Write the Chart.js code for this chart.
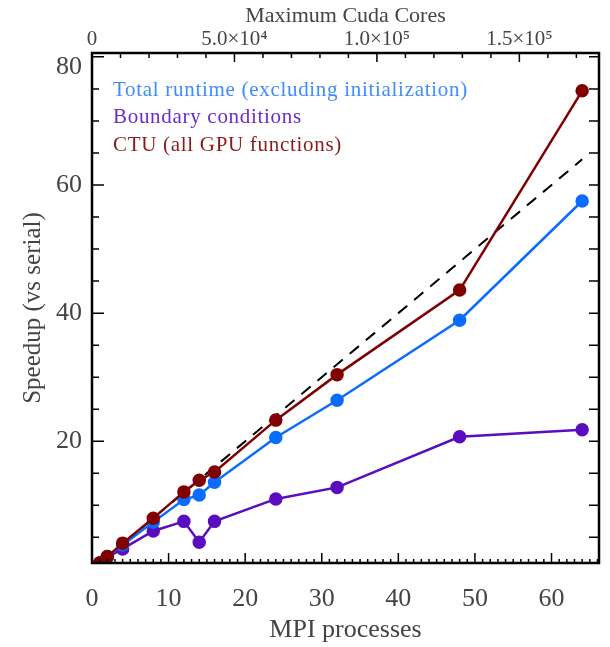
<!DOCTYPE html>
<html>
<head>
<meta charset="utf-8">
<script src="https://cdn.jsdelivr.net/npm/chart.js@4/dist/chart.umd.min.js"></script>
<style>
  html, body { margin: 0; padding: 0; background: #fff; }
  #wrap { width: 610px; height: 647px; }
</style>
</head>
<body>
<div id="wrap"><canvas id="speedupChart" width="610" height="647"></canvas></div>
<script>
"use strict";
// data
var mpiProcs = [1, 2, 4, 8, 12, 14, 16, 24, 32, 48, 64];
var totalRuntime = [1, 2.0, 3.8, 7.4, 10.9, 11.6, 13.6, 20.6, 26.4, 38.9, 57.5];
var boundaryCond = [1, 1.9, 3.2, 6.0, 7.5, 4.25, 7.5, 11.0, 12.8, 20.7, 21.8];
var ctuSpeedup = [1, 2.0, 4.1, 8.0, 12.1, 13.9, 15.2, 23.3, 30.4, 43.6, 74.7];
var idealX = [0, 64];

var xTicks = [0, 10, 20, 30, 40, 50, 60];
var yTicks = [20, 40, 60, 80];
var coresPerProc = 2688;
var coreTicks = [0, 50000, 100000, 150000];
var coreTickLabels = ['0', '5.0\u00d710\u2074', '1.0\u00d710\u2075', '1.5\u00d710\u2075'];

var xMin = 0, xMax = 66.2, yMin = 1, yMax = 80.6;
var serif = "'Liberation Serif', 'DejaVu Serif', serif";
var textCol = '#444';

function pts(xs, ys) {
    return xs.map(function(x, i) { return {x: x, y: ys[i]}; });
}

/* frame + inward ticks, IDL style */
var frameTicks = {
    id: 'frameTicks',
    afterDraw: function(chart) {
        var ctx = chart.ctx, a = chart.chartArea;
        var xs = chart.scales.x, ys = chart.scales.y, xt = chart.scales.x2;
        ctx.save();
        ctx.strokeStyle = '#000';
        ctx.lineWidth = 1.5;
        ctx.beginPath();
        var v, p, len;
        for (v = 0; v <= xMax; v += 1) {
            p = xs.getPixelForValue(v);
            len = (v % 10 === 0) ? 10 : 4;
            ctx.moveTo(p, a.bottom); ctx.lineTo(p, a.bottom - len);
        }
        for (v = 5; v <= yMax; v += 5) {
            p = ys.getPixelForValue(v);
            len = (v % 20 === 0) ? 12 : 7;
            ctx.moveTo(a.left, p); ctx.lineTo(a.left + len, p);
            ctx.moveTo(a.right, p); ctx.lineTo(a.right - 10, p);
        }
        for (v = 0; v <= xMax * coresPerProc; v += 10000) {
            p = xt.getPixelForValue(v);
            len = (v % 50000 === 0) ? 9 : 5;
            ctx.moveTo(p, a.top); ctx.lineTo(p, a.top + len);
        }
        ctx.stroke();
        ctx.lineWidth = 2.5;
        ctx.strokeRect(a.left, a.top, a.right - a.left, a.bottom - a.top);

        // top y label sits a little below its tick, as in the original
        ctx.font = '26px ' + serif;
        ctx.fillStyle = textCol;
        ctx.textAlign = 'right';
        ctx.textBaseline = 'middle';
        ctx.fillText(String(yTicks[yTicks.length - 1]), a.left - 10,
            ys.getPixelForValue(yTicks[yTicks.length - 1]) + 10);
        ctx.restore();
    }
};

/* coloured text legend, top left inside plot */
var textLegend = {
    id: 'textLegend',
    afterDraw: function(chart) {
        var ctx = chart.ctx, a = chart.chartArea;
        var items = chart.data.datasets.filter(function(d) { return d.legendRow !== undefined; });
        items.sort(function(p, q) { return p.legendRow - q.legendRow; });
        ctx.save();
        ctx.font = '21px ' + serif;
        ctx.letterSpacing = '0.7px';
        ctx.textBaseline = 'middle';
        items.forEach(function(d, i) {
            ctx.fillStyle = d.labelColor;
            ctx.fillText(d.label, a.left + 21, a.top + 37 + i * 27.5);
        });
        ctx.restore();
    }
};

var ctx = document.getElementById('speedupChart').getContext('2d');
var speedupChart = new Chart(ctx, {
    type: 'line',
    data: {
        datasets: [{
            label: 'CTU (all GPU functions)',
            legendRow: 2,
            labelColor: '#8b1a1a',
            data: pts(mpiProcs, ctuSpeedup),
            borderColor: '#800000',
            backgroundColor: '#800000',
            borderWidth: 2.5,
            pointRadius: 5.5,
            order: 0
        }, {
            label: 'Total runtime (excluding initialization)',
            legendRow: 0,
            labelColor: '#3f8cff',
            data: pts(mpiProcs, totalRuntime),
            borderColor: '#0a6cff',
            backgroundColor: '#0a6cff',
            borderWidth: 2.5,
            pointRadius: 5.5,
            order: 1
        }, {
            label: 'Boundary conditions',
            legendRow: 1,
            labelColor: '#6a2ccc',
            data: pts(mpiProcs, boundaryCond),
            borderColor: '#5a0cbf',
            backgroundColor: '#5a0cbf',
            borderWidth: 2.5,
            pointRadius: 5.5,
            order: 2
        }, {
            label: 'ideal',
            data: pts(idealX, idealX),
            borderColor: '#000',
            borderWidth: 2,
            borderDash: [12, 9],
            pointRadius: 0,
            order: 3
        }]
    },
    options: {
        responsive: false,
        animation: false,
        devicePixelRatio: 1,
        layout: { padding: { right: 11, top: 0, left: 0, bottom: 0 } },
        plugins: {
            legend: { display: false },
            tooltip: { enabled: false }
        },
        scales: {
            x: {
                type: 'linear',
                position: 'bottom',
                min: xMin,
                max: xMax,
                grid: { display: false, drawTicks: false },
                border: { display: false },
                afterBuildTicks: function(axis) {
                    axis.ticks = xTicks.map(function(v) { return {value: v}; });
                },
                afterFit: function(axis) { axis.height = 84; },
                ticks: {
                    font: { family: serif, size: 26 },
                    color: textCol,
                    padding: 21,
                    maxRotation: 0
                },
                title: {
                    display: true,
                    text: 'MPI processes',
                    font: { family: serif, size: 26 },
                    color: textCol,
                    padding: { top: 0, bottom: 1 }
                }
            },
            x2: {
                type: 'linear',
                position: 'top',
                min: xMin * coresPerProc,
                max: xMax * coresPerProc,
                grid: { display: false, drawTicks: false },
                border: { display: false },
                afterBuildTicks: function(axis) {
                    axis.ticks = coreTicks.map(function(v) { return {value: v}; });
                },
                afterFit: function(axis) { axis.height = 53; },
                ticks: {
                    font: { family: serif, size: 21 },
                    color: textCol,
                    padding: 1,
                    maxRotation: 0,
                    callback: function(value) {
                        return coreTickLabels[coreTicks.indexOf(value)];
                    }
                },
                title: {
                    display: true,
                    text: 'Maximum Cuda Cores',
                    font: { family: serif, size: 22 },
                    color: textCol,
                    padding: { top: 3, bottom: 0 }
                }
            },
            y: {
                type: 'linear',
                min: yMin,
                max: yMax,
                grid: { display: false, drawTicks: false },
                border: { display: false },
                afterBuildTicks: function(axis) {
                    axis.ticks = yTicks.map(function(v) { return {value: v}; });
                },
                afterFit: function(axis) { axis.width = 92; },
                ticks: {
                    font: { family: serif, size: 26 },
                    color: textCol,
                    padding: 10,
                    callback: function(value) {
                        return value === yTicks[yTicks.length - 1] ? '' : String(value);
                    }
                },
                title: {
                    display: true,
                    text: 'Speedup (vs serial)',
                    font: { family: serif, size: 25 },
                    color: textCol,
                    padding: { top: 18, bottom: 0 }
                }
            }
        }
    },
    plugins: [frameTicks, textLegend]
});
</script>
</body>
</html>
